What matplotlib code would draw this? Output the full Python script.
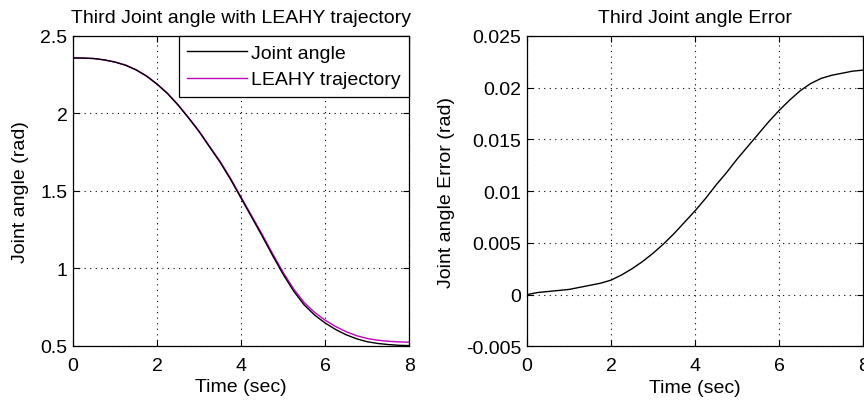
import numpy as np
import matplotlib
matplotlib.use("Agg")
import matplotlib.pyplot as plt
from matplotlib.ticker import FuncFormatter

# time samples (sec)
t = [0.0, 0.25, 0.5, 0.75, 1.0, 1.25, 1.5, 1.75, 2.0, 2.25, 2.5, 2.75,
     3.0, 3.25, 3.5, 3.75, 4.0, 4.25, 4.5, 4.75, 5.0, 5.25, 5.5, 5.75,
     6.0, 6.25, 6.5, 6.75, 7.0, 7.25, 7.5, 7.75, 8.0]

# LEAHY reference trajectory (rad)
leahy = [2.356, 2.355, 2.352, 2.343, 2.330, 2.310, 2.280, 2.240, 2.188,
         2.128, 2.055, 1.972, 1.885, 1.787, 1.690, 1.580, 1.460, 1.340,
         1.220, 1.095, 0.975, 0.868, 0.780, 0.716, 0.666, 0.625, 0.592,
         0.566, 0.548, 0.537, 0.530, 0.526, 0.524]

# measured joint angle (rad)
joint = [2.356, 2.355, 2.352, 2.343, 2.329, 2.309, 2.279, 2.239, 2.187,
         2.126, 2.052, 1.969, 1.881, 1.782, 1.684, 1.573, 1.452, 1.331,
         1.209, 1.083, 0.962, 0.854, 0.765, 0.699, 0.648, 0.606, 0.572,
         0.546, 0.527, 0.516, 0.509, 0.504, 0.502]

# tracking error (rad)
err = [0.0000, 0.0002, 0.0003, 0.0004, 0.0005, 0.0007, 0.0009, 0.0011,
       0.0014, 0.0019, 0.0025, 0.0032, 0.0040, 0.0049, 0.0059, 0.0070,
       0.0081, 0.0093, 0.0106, 0.0118, 0.0131, 0.0143, 0.0155, 0.0167,
       0.0178, 0.0188, 0.0197, 0.0204, 0.0209, 0.0212, 0.0214, 0.0216,
       0.0217]

xticks = [0, 2, 4, 6, 8]
left_yticks = [0.5, 1, 1.5, 2, 2.5]
right_yticks = [-0.005, 0, 0.005, 0.01, 0.015, 0.02, 0.025]

plt.rcParams["font.family"] = ["Liberation Sans", "DejaVu Sans"]
FS = 14

fig = plt.figure(figsize=(8.64, 4.02), dpi=100)
ax1 = fig.add_axes([0.0845, 0.137, 0.389, 0.772])
ax2 = fig.add_axes([0.610, 0.136, 0.389, 0.772])


def matlab_style(ax):
    ax.grid(True, color="k", linestyle=(0, (1, 4)), linewidth=0.8)
    ax.tick_params(direction="in", length=4, width=0.8, top=True, right=True,
                   labelsize=FS, colors="k")
    ax.tick_params(axis="x", pad=8)
    ax.tick_params(axis="y", pad=4)
    for s in ax.spines.values():
        s.set_linewidth(0.9)
        s.set_color("k")
    ax.yaxis.set_major_formatter(FuncFormatter(lambda v, p: f"{v:g}"))
    ax.xaxis.set_major_formatter(FuncFormatter(lambda v, p: f"{v:g}"))


ax1.plot(t, joint, color="k", lw=1.0, label="Joint angle")
ax1.plot(t, leahy, color="m", lw=1.0, label="LEAHY trajectory", zorder=1.9)
ax1.set_xlim(0, 8)
ax1.set_ylim(0.5, 2.5)
ax1.set_xticks(xticks)
ax1.set_yticks(left_yticks)
matlab_style(ax1)
ax1.set_title("Third Joint angle with LEAHY trajectory", fontsize=FS, pad=10)
ax1.set_xlabel("Time (sec)", fontsize=FS, labelpad=3)
ax1.set_ylabel("Joint angle (rad)", fontsize=FS, labelpad=8)
leg = ax1.legend(loc="upper right", fontsize=FS, fancybox=False,
                 edgecolor="k", framealpha=1, borderaxespad=0,
                 borderpad=0.43, labelspacing=0.48, handlelength=3.1,
                 handletextpad=0.2)
leg.get_frame().set_linewidth(0.9)

ax2.plot(t, err, color="k", lw=1.0)
ax2.set_xlim(0, 8)
ax2.set_ylim(-0.005, 0.025)
ax2.set_xticks(xticks)
ax2.set_yticks(right_yticks)
matlab_style(ax2)
ax2.set_title("Third Joint angle Error", fontsize=FS, pad=10)
ax2.set_xlabel("Time (sec)", fontsize=FS, labelpad=3)
ax2.set_ylabel("Joint angle Error (rad)", fontsize=FS, labelpad=8)

fig.savefig("out.png", dpi=100)
